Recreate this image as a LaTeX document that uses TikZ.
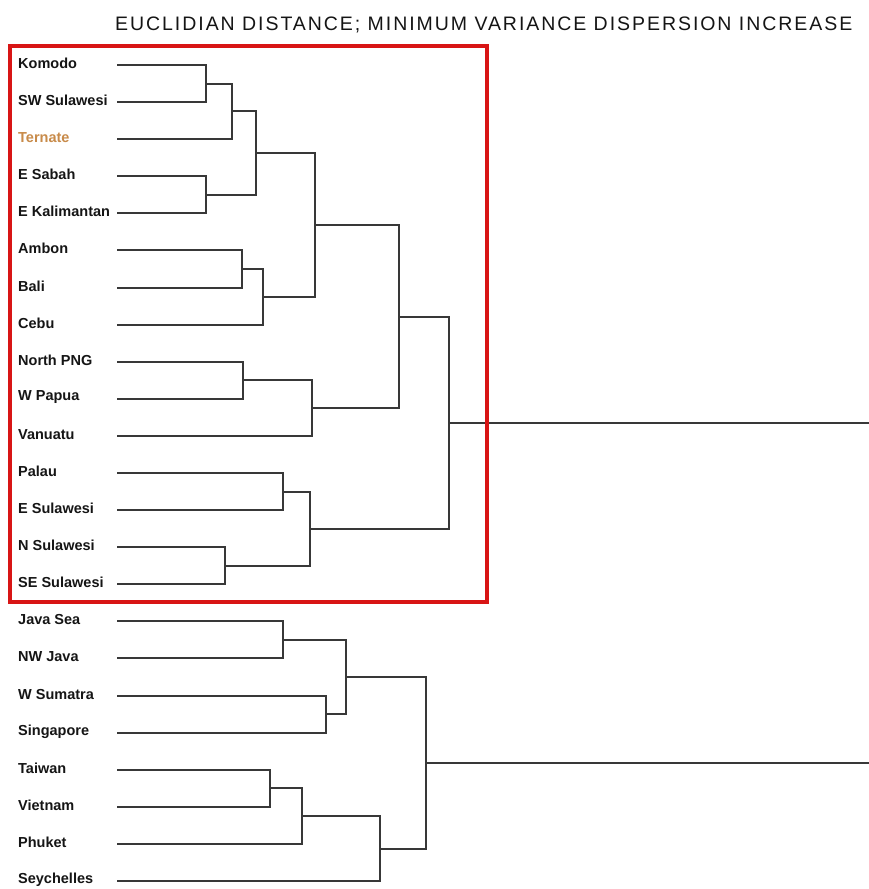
\documentclass[tikz,border=0pt]{standalone}
\usepackage{fontspec}
\setmainfont{Liberation Sans}
\definecolor{ink}{HTML}{151515}
\definecolor{linec}{HTML}{383838}
\definecolor{boxred}{HTML}{D81515}
\definecolor{tern}{HTML}{C88B4A}
\tikzset{
  leaf/.style={anchor=west, inner sep=0pt, font=\fontsize{14.5}{16}\selectfont\bfseries, text=ink},
  link/.style={draw=linec, line width=2pt},
  redbox/.style={draw=boxred, line width=4pt},
  titletext/.style={anchor=base west, inner sep=0pt, font=\fontsize{19.5}{22}\selectfont\addfontfeatures{LetterSpace=10}, text=ink}
}
\begin{document}
\begin{tikzpicture}[x=1pt,y=-1pt]
\useasboundingbox (0,0) rectangle (869,889);
\fill[white] (0,0) rectangle (869,889);
\node[titletext] (title) at (115,30) {EUCLIDIAN DISTANCE; MINIMUM VARIANCE DISPERSION INCREASE};
% leaves
\foreach \i/\name/\col in {1/Komodo/ink,2/SW Sulawesi/ink,3/Ternate/tern,4/E Sabah/ink,5/E Kalimantan/ink,6/Ambon/ink,7/Bali/ink,8/Cebu/ink,9/North PNG/ink,10/W Papua/ink,11/Vanuatu/ink,12/Palau/ink,13/E Sulawesi/ink,14/N Sulawesi/ink,15/SE Sulawesi/ink,16/Java Sea/ink,17/NW Java/ink,18/W Sumatra/ink,19/Singapore/ink,20/Taiwan/ink,21/Vietnam/ink,22/Phuket/ink,23/Seychelles/ink}{
  \pgfmathsetmacro{\yy}{round(65+37.09*(\i-1))}
  \node[leaf, text=\col] (T\i) at (18,\yy-1.5) {\name};
  \coordinate (L\i) at (117,\yy);
}
% upper merges
\coordinate (m1) at (206,83.5);
\coordinate (m2) at (232,111);
\coordinate (m3) at (206,194.5);
\coordinate (m4) at (256,153);
\coordinate (m5) at (242,269);
\coordinate (m6) at (263,296.5);
\coordinate (m7) at (315,225);
\coordinate (m8) at (243,380);
\coordinate (m9) at (312,408);
\coordinate (m10) at (399,316.5);
\coordinate (m11) at (283,491.5);
\coordinate (m12) at (225,565.5);
\coordinate (m13) at (310,528.5);
\coordinate (m14) at (449,422.5);
\coordinate (r1) at (869,422.5);
% lower merges
\coordinate (n1) at (283,640);
\coordinate (n2) at (326,714);
\coordinate (n3) at (346,677);
\coordinate (n4) at (270,788);
\coordinate (n5) at (302,816);
\coordinate (n6) at (380,848.5);
\coordinate (n7) at (426,763);
\coordinate (r2) at (869,763);
\draw[link] (L1) -| (m1) |- (L2);
\draw[link] (m1) -| (m2) |- (L3);
\draw[link] (L4) -| (m3) |- (L5);
\draw[link] (m2) -| (m4) |- (m3);
\draw[link] (L6) -| (m5) |- (L7);
\draw[link] (m5) -| (m6) |- (L8);
\draw[link] (m4) -| (m7) |- (m6);
\draw[link] (L9) -| (m8) |- (L10);
\draw[link] (m8) -| (m9) |- (L11);
\draw[link] (m7) -| (m10) |- (m9);
\draw[link] (L12) -| (m11) |- (L13);
\draw[link] (L14) -| (m12) |- (L15);
\draw[link] (m11) -| (m13) |- (m12);
\draw[link] (m10) -| (m14) |- (m13);
\draw[link] (m14) -- (r1);
\draw[link] (L16) -| (n1) |- (L17);
\draw[link] (L18) -| (n2) |- (L19);
\draw[link] (n1) -| (n3) |- (n2);
\draw[link] (L20) -| (n4) |- (L21);
\draw[link] (n4) -| (n5) |- (L22);
\draw[link] (n5) -| (n6) |- (L23);
\draw[link] (n3) -| (n7) |- (n6);
\draw[link] (n7) -- (r2);
\draw[redbox] (10,46) rectangle (487,602);
\end{tikzpicture}
\end{document}
